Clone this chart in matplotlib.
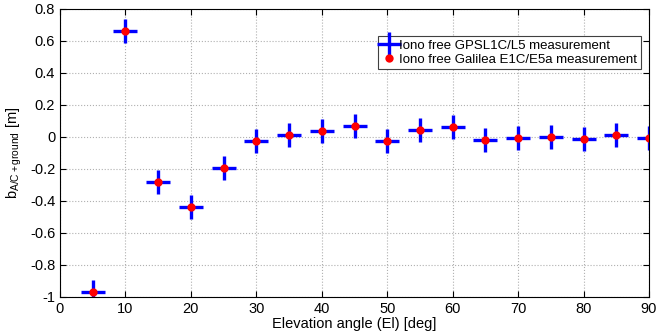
import matplotlib
matplotlib.use('Agg')
import matplotlib.pyplot as plt

# elevation bins and measured bias values
elev = [5, 10, 15, 20, 25, 30, 35, 40, 45, 50, 55, 60, 65, 70, 75, 80, 85, 90]
gps_bias = [-0.97, 0.665, -0.28, -0.435, -0.195, -0.025, 0.015, 0.04, 0.066,
            -0.022, 0.045, 0.06, -0.016, -0.007, 0.0, -0.01, 0.01, -0.005]
gal_bias = [-0.97, 0.665, -0.28, -0.435, -0.195, -0.025, 0.015, 0.04, 0.066,
            -0.022, 0.045, 0.06, -0.016, -0.007, 0.0, -0.01, 0.01, -0.005]

xticks = list(range(0, 91, 10))
yticks = [-1, -0.8, -0.6, -0.4, -0.2, 0, 0.2, 0.4, 0.6, 0.8]

plt.rcParams['font.family'] = ['Liberation Sans', 'DejaVu Sans']
plt.rcParams['mathtext.fontset'] = 'custom'
plt.rcParams['mathtext.rm'] = 'Liberation Sans'
plt.rcParams['mathtext.it'] = 'Liberation Sans'

fig = plt.figure(figsize=(6.57, 3.32), dpi=100)
ax = fig.add_axes([60/657, 1 - 297/332, 589/657, 288/332])

ax.plot(elev, gps_bias, linestyle='none', marker='+', color='#0000ff',
        markersize=17, markeredgewidth=2.4,
        label='Iono free GPSL1C/L5 measurement')
ax.plot(elev, gal_bias, linestyle='none', marker='o', color='#ff0000',
        markersize=6, markeredgewidth=0,
        label='Iono free Galilea E1C/E5a measurement')

ax.set_xlim(0, 90)
ax.set_ylim(-1, 0.8)
ax.set_xticks(xticks)
ax.set_yticks(yticks)
ax.set_yticklabels(['-1', '-0.8', '-0.6', '-0.4', '-0.2', '0', '0.2', '0.4', '0.6', '0.8'])
ax.tick_params(direction='in', labelsize=10.5, length=4, top=True, right=True)
ax.grid(True, linestyle=':', color='#b0b0b0', linewidth=0.8)
for s in ax.spines.values():
    s.set_linewidth(0.8)

ax.set_xlabel('Elevation angle (El) [deg]', fontsize=10.5, labelpad=1)
ax.set_ylabel(r'b$_{\mathrm{A/C+ground}}$ [m]', fontsize=10.5, labelpad=4)

leg = ax.legend(loc='upper right', bbox_to_anchor=(0.986, 0.906), fontsize=9.5,
                fancybox=False, framealpha=1, edgecolor='#404040',
                handlelength=1.2, handletextpad=0.2, borderpad=0.25,
                labelspacing=0.15, borderaxespad=0)
leg.get_frame().set_linewidth(0.8)

fig.savefig('out.png', dpi=100)
